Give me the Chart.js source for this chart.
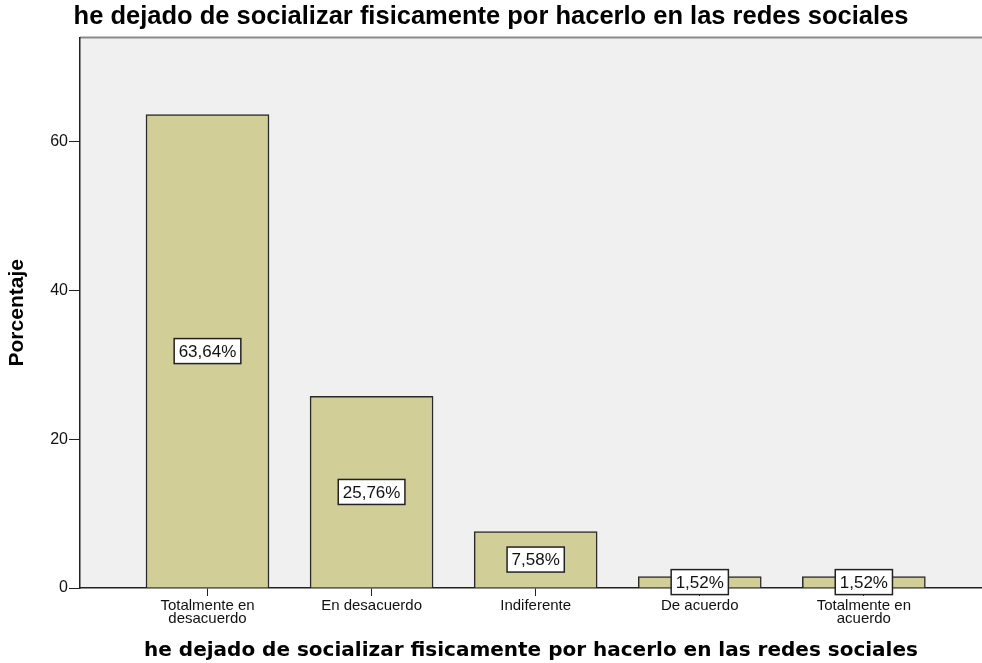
<!DOCTYPE html>
<html>
<head>
<meta charset="utf-8">
<script src="https://cdn.jsdelivr.net/npm/chart.js@4"></script>
<style>
  body { margin: 0; background: #fff; }
  #wrap { width: 982px; height: 663px; }
</style>
</head>
<body>
<div id="wrap">
  <canvas id="chart" width="982" height="663"></canvas>
</div>
<script>
  var chartTitle = 'he dejado de socializar fisicamente por hacerlo en las redes sociales';
  var categories = [
      ['Totalmente en', 'desacuerdo'],
      ['En desacuerdo'],
      ['Indiferente'],
      ['De acuerdo'],
      ['Totalmente en', 'acuerdo']
  ];
  var percentages = [63.64, 25.76, 7.58, 1.52, 1.52];
  var yTicks = [0, 20, 40, 60];

  // background of the plot area + grey top edge
  var plotBackground = {
      id: 'plotBackground',
      beforeDraw: function(chart) {
          var a = chart.chartArea, ctx = chart.ctx;
          ctx.save();
          ctx.fillStyle = '#f0f0f0';
          ctx.fillRect(a.left, a.top, a.right - a.left, a.bottom - a.top);
          ctx.strokeStyle = '#8a8a8a';
          ctx.lineWidth = 2;
          ctx.beginPath();
          ctx.moveTo(a.left, a.top);
          ctx.lineTo(a.right, a.top);
          ctx.stroke();
          ctx.restore();
      }
  };

  // boxed percentage label in the middle of each bar
  var barLabels = {
      id: 'barLabels',
      afterDatasetsDraw: function(chart) {
          var ctx = chart.ctx;
          var meta = chart.getDatasetMeta(0);
          ctx.save();
          ctx.font = '17px "Liberation Sans", Arial, sans-serif';
          ctx.textAlign = 'center';
          ctx.textBaseline = 'middle';
          meta.data.forEach(function(bar, i) {
              var txt = percentages[i].toFixed(2).replace('.', ',') + '%';
              var w = ctx.measureText(txt).width + 9;
              var h = 25;
              var cy = (bar.y + bar.base) / 2;
              ctx.fillStyle = '#ffffff';
              ctx.fillRect(bar.x - w / 2, cy - h / 2, w, h);
              ctx.strokeStyle = '#222';
              ctx.lineWidth = 1.5;
              ctx.strokeRect(bar.x - w / 2, cy - h / 2, w, h);
              ctx.fillStyle = '#111';
              ctx.fillText(txt, bar.x, cy + 1);
          });
          ctx.restore();
      }
  };

  var data = {
      datasets: [{
          label: 'Porcentaje',
          data: percentages.map(function(v, i) { return { x: i, y: v }; }),
          backgroundColor: '#d2ce98',
          borderColor: '#2a2a2a',
          borderWidth: 1.5,
          barThickness: 123
      }]
  };

  var config = {
      type: 'bar',
      data: data,
      plugins: [plotBackground, barLabels],
      options: {
          responsive: false,
          animation: false,
          layout: { padding: 0 },
          plugins: {
              legend: { display: false },
              tooltip: { enabled: false },
              title: {
                  display: true,
                  text: chartTitle,
                  color: '#000',
                  font: { family: '"Liberation Sans", Arial, sans-serif', size: 25.5, weight: 'bold' },
                  padding: { top: 2, bottom: 5 }
              }
          },
          scales: {
              x: {
                  type: 'linear',
                  offset: false,
                  min: -0.777,
                  max: 4.72,
                  afterFit: function(s) { s.height = 75; },
                  afterBuildTicks: function(s) {
                      s.ticks = categories.map(function(c, i) { return { value: i }; });
                  },
                  ticks: {
                      autoSkip: false,
                      maxRotation: 0,
                      padding: 3,
                      color: '#111',
                      font: { family: '"Liberation Sans", Arial, sans-serif', size: 15, lineHeight: 0.9 },
                      callback: function(v) { return categories[v]; }
                  },
                  grid: { offset: false, drawOnChartArea: false, drawTicks: true, tickLength: 8, color: '#222' },
                  border: { display: true, color: '#222', width: 1.5 },
                  title: {
                      display: true,
                      text: chartTitle,
                      color: '#000',
                      font: { family: '"DejaVu Sans", Verdana, sans-serif', size: 20, weight: 'bold' },
                      padding: { top: 0, bottom: 0 }
                  }
              },
              y: {
                  min: 0,
                  max: 74,
                  afterFit: function(s) { s.width = 80; },
                  afterBuildTicks: function(s) {
                      s.ticks = yTicks.map(function(v) { return { value: v }; });
                  },
                  ticks: {
                      padding: 1,
                      color: '#111',
                      font: { family: '"Liberation Sans", Arial, sans-serif', size: 16 }
                  },
                  grid: { drawOnChartArea: false, drawTicks: true, tickLength: 11, color: '#222' },
                  border: { display: true, color: '#222', width: 1.5 },
                  title: {
                      display: true,
                      text: 'Porcentaje',
                      color: '#000',
                      font: { family: '"Liberation Sans", Arial, sans-serif', size: 21, weight: 'bold' },
                      padding: { top: 5, bottom: 0 }
                  }
              }
          }
      }
  };

  var chart = new Chart(document.getElementById('chart'), config);
</script>
</body>
</html>
